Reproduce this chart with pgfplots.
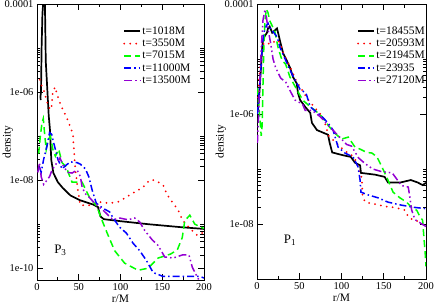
\documentclass[border=0pt]{standalone}
\usepackage{fontspec}
\setmainfont{Liberation Serif}
\usepackage{pgfplots}
\pgfplotsset{compat=1.18}
\definecolor{cviolet}{RGB}{148,0,211}
\definecolor{cgreen}{RGB}{0,255,0}
\definecolor{cblue}{RGB}{0,0,255}
\definecolor{cred}{RGB}{255,0,0}
\pgfplotsset{
  legend image code/.code={\draw[#1] (0bp,0bp) -- (16bp,0bp);},
  myax/.style={
    scale only axis, xmin=0, xmax=200,
    xtick={0,50,100,150,200}, minor xtick={25,75,125,175},
    /pgf/number format/assume math mode=true,
    tick label style={font=\fontsize{10.5}{12}\selectfont},
    xlabel={r/M}, ylabel={density},
    every axis x label/.style={at={(axis description cs:0.5,-0.069)}, anchor=center, font=\fontsize{11.5}{13}\selectfont},
    tick align=inside, major tick length=6bp, minor tick length=3.5bp,
    axis line style={line width=0.9bp},
    every tick/.style={black, line width=0.8bp},
    legend style={draw=none, fill=none, font=\fontsize{11.5}{13}\selectfont,
      row sep=0.8pt, nodes={inner sep=1.2pt}},
    legend cell align=left,
  },
  sblack/.style={black, line width=1.7bp},
  sred/.style={cred, line width=2bp, line cap=round, dash pattern=on 0pt off 6bp},
  sgreen/.style={cgreen, line width=1.5bp, dash pattern=on 7bp off 4bp},
  sblue/.style={cblue, line width=1.5bp, dash pattern=on 7bp off 3bp on 1.5bp off 3bp},
  sviolet/.style={cviolet, line width=1.5bp, dash pattern=on 8bp off 3bp on 1.5bp off 3bp on 1.5bp off 3bp},
}
\begin{document}
\begin{tikzpicture}
\useasboundingbox (-37bp,-25bp) rectangle (399bp,280bp);
% ---------------- left panel ----------------
\begin{axis}[ymode=log, myax, at={(0bp,0bp)}, anchor=south west, width=167bp, height=276bp,
  ymin=5.4e-11, ymax=1e-4,
  ytick={1e-10,1e-8,1e-6,1e-4}, yticklabels={1e-10,1e-08,1e-06,0.0001},
  minor ytick={2e-10,3e-10,4e-10,5e-10,6e-10,7e-10,8e-10,9e-10,1e-9,
               2e-8,3e-8,4e-8,5e-8,6e-8,7e-8,8e-8,9e-8,1e-7,
               2e-6,3e-6,4e-6,5e-6,6e-6,7e-6,8e-6,9e-6,1e-5},
  every axis y label/.style={at={(axis description cs:-0.174,0.5)}, rotate=90, anchor=center, font=\fontsize{11.5}{13}\selectfont},
  legend style={at={(axis description cs:0.497,0.93)}, anchor=north west},
]
\addplot[sblack] coordinates {(4.4,6.6e-7)(4.2,8e-7)(4.8,1e-6)(5.5,1e-5)(6.5,6e-5)(8,1.5e-4)(9.5,1e-4)(10.5,5e-6)(12.4,1.1e-6)(14,3e-7)(15.5,1.4e-7)(16.5,5e-8)(17.2,2.8e-8)(19.6,1.45e-8)(25,9e-9)(31,6.6e-9)(40,4.5e-9)(51.5,3.5e-9)(67,2.8e-9)(73,2.45e-9)(76,1.5e-9)(80,1.3e-9)(100,1.17e-9)(133,1e-9)(174,8.5e-10)(200,7.8e-10)};
\addlegendentry{t=1018M}
\addplot[sred] coordinates {(3.5,1.9e-6)(6,1.3e-6)(9,1e-6)(11,7e-7)(14,4.5e-7)(17,4e-7)(19,1e-6)(21.6,1.3e-6)(24,9e-7)(27,6e-7)(31,4e-7)(36,2.5e-7)(40,1.6e-7)(43,1.1e-7)(44,5.6e-8)(46,1.7e-8)(49,5.9e-9)(52,2.7e-9)(56,2.7e-9)(63,2.7e-9)(75,3.2e-9)(87,3e-9)(97,3.2e-9)(105,3.9e-9)(117,5.4e-9)(127,6.9e-9)(135,1e-8)(141,1e-8)(151,7.8e-9)(156,4.6e-9)(162,3.2e-9)(169,2.1e-9)(174,1.26e-9)(183,8e-10)(192,5.6e-10)(198,6.3e-10)};
\addlegendentry{t=3550M}
\addplot[sgreen] coordinates {(2,4e-8)(4,1e-7)(6,2e-7)(7.5,2.5e-7)(9,1.2e-7)(11,5e-8)(13,8e-8)(16,1e-7)(19,5e-8)(22,3.5e-8)(26,5e-8)(30,2.5e-8)(35,2e-8)(38,1.4e-8)(42,9e-9)(48,9e-9)(54,9e-9)(63,4e-9)(72,2.5e-9)(76,1.5e-9)(84,6.3e-10)(93,2.5e-10)(105,1.3e-10)(121,9e-11)(133,1e-10)(145,1.7e-10)(160,2.1e-10)(168,2.6e-10)(174,5e-10)(177,1.2e-9)(183,1.6e-9)(189,1e-9)(194,9e-10)(200,8e-10)};
\addlegendentry{t=7015M}
\addplot[sblue] coordinates {(3,2e-8)(5,1.5e-8)(8,3e-8)(12,6e-8)(15,1.2e-7)(17.6,1.1e-7)(20,7e-8)(25,3e-8)(30,1.8e-8)(35,2.2e-8)(40,2.6e-8)(48,2.5e-8)(52,2.3e-8)(58,1.8e-8)(62,1.2e-8)(66,6e-9)(71,3e-9)(79,2.3e-9)(87,1.9e-9)(91,1.4e-9)(99,8.5e-10)(107,6.3e-10)(115,3.7e-10)(123,2.5e-10)(131,1.5e-10)(139,8e-11)(151,6.5e-11)(167,6.5e-11)(180,6.5e-11)(195,6.5e-11)(200,6e-11)};
\addlegendentry{t=11000M}
\addplot[sviolet] coordinates {(1,1.5e-8)(3,2.5e-8)(5,1.2e-8)(8,8e-9)(12,1e-8)(15,1.2e-8)(18,1.7e-8)(22,2.2e-8)(27.5,3.2e-8)(32,2e-8)(37,1.5e-8)(42,1.45e-8)(48,1.7e-8)(52,1.2e-8)(54,7e-9)(57.5,5e-9)(63,4e-9)(69,3e-9)(80,2e-9)(91,1.26e-9)(99,1.38e-9)(109,1.26e-9)(117,1.38e-9)(123,1.12e-9)(129,7.2e-10)(138,4.4e-10)(145,3.3e-10)(153,1.8e-10)(163,1.7e-10)(174,2e-10)(182,2e-10)(186,1.05e-10)(192,6.3e-11)(195,5e-11)};
\addlegendentry{t=13500M}
\node[font=\fontsize{13}{15}\selectfont] at (axis cs:28,2.6e-10) {P\textsubscript{3}};
\end{axis}
% ---------------- right panel ----------------
\begin{axis}[ymode=log, myax, at={(220bp,1bp)}, anchor=south west, width=169bp, height=275bp,
  ymin=1e-9, ymax=1e-4,
  ytick={1e-8,1e-6,1e-4}, yticklabels={1e-08,1e-06,0.0001},
  minor ytick={2e-8,3e-8,4e-8,5e-8,6e-8,7e-8,8e-8,9e-8,1e-7,
               2e-6,3e-6,4e-6,5e-6,6e-6,7e-6,8e-6,9e-6,1e-5},
  every axis y label/.style={at={(axis description cs:-0.213,0.5)}, rotate=90, anchor=center, font=\fontsize{11.5}{13}\selectfont},
  legend style={at={(axis description cs:0.574,0.93)}, anchor=north west},
]
\addplot[sblack] coordinates {(0.5,1.2e-6)(1.2,1.2e-6)(2.5,2e-6)(3.5,3.6e-6)(5,8e-6)(6,1.5e-5)(7,2.2e-5)(9,2.6e-5)(11.8,3e-5)(13,3.6e-5)(15,3.9e-5)(18,3e-5)(21,3.3e-5)(23.7,3.6e-5)(25,3e-5)(27,2.2e-5)(31,1.26e-5)(35,9.5e-6)(39,7e-6)(42.6,4.7e-6)(47,3.6e-6)(48.5,2.4e-6)(51,1.8e-6)(57,1.35e-6)(63,1.05e-6)(65,6.9e-7)(71,5.1e-7)(84,4.2e-7)(86,3e-7)(89,2e-7)(101.7,1.78e-7)(111,1.66e-7)(116,1.3e-7)(122,1.17e-7)(123,8.5e-8)(139.6,7.9e-8)(151,7.2e-8)(155,5.7e-8)(170,5.7e-8)(182,6.3e-8)(190,5.7e-8)(196,5.1e-8)(200,5.6e-8)};
\addlegendentry{t=18455M}
\addplot[sred] coordinates {(1,2e-6)(3,5e-6)(5,1.2e-5)(7,1.8e-5)(9.5,2e-5)(13,1.9e-5)(17.7,1.9e-5)(21,2.1e-5)(25,2.2e-5)(28,1.8e-5)(31,1.3e-5)(36,9e-6)(42.6,5.5e-6)(47,3.8e-6)(52,3e-6)(59,1.95e-6)(65,1.5e-6)(71,1.17e-6)(78,8.9e-7)(85,4e-7)(94.6,2.9e-7)(103,2.2e-7)(112,1.78e-7)(118,1.35e-7)(121,9e-8)(124,6.9e-8)(125,3.2e-8)(128,2.5e-8)(139.6,2.3e-8)(151,2.1e-8)(163,2e-8)(175,1.78e-8)(179,1.35e-8)(185,1.17e-8)(193,1.1e-8)(196,1e-8)(200,1e-8)};
\addlegendentry{t=20593M}
\addplot[sgreen] coordinates {(0.5,3e-6)(2,1.5e-6)(3.5,8e-7)(5,4e-7)(6,6e-7)(7,3e-6)(8,1.5e-5)(9.5,5e-5)(11,8e-5)(13,7e-5)(15,5e-5)(18,4e-5)(21,3.2e-5)(25,1.6e-5)(29.6,9.5e-6)(34,8e-6)(39,4.7e-6)(47,2.8e-6)(54,1.8e-6)(63,1.35e-6)(68.6,1.17e-6)(77,8.9e-7)(85,6e-7)(92,4.5e-7)(100,3.5e-7)(108,3.8e-7)(116,2.5e-7)(122,2.3e-7)(130,2e-7)(136,1.95e-7)(142,1.66e-7)(149,1e-7)(155,6.3e-8)(161,3.8e-8)(169,3e-8)(177,2.5e-8)(183,2e-8)(189,1.78e-8)(193,1.35e-8)(196,1.17e-8)(197.5,5.8e-9)(199,3e-9)(200,1.7e-9)};
\addlegendentry{t=21945M}
\addplot[sblue] coordinates {(0.5,1e-6)(2,2e-6)(4,5e-6)(6,1.5e-5)(8,3e-5)(11,4e-5)(13,4.5e-5)(16,3.5e-5)(20,3e-5)(24,2.5e-5)(27,1.65e-5)(31,1.2e-5)(39,6.3e-6)(45,4.2e-6)(51,2.8e-6)(58,2.4e-6)(63,1.35e-6)(70,1.1e-6)(77,8.9e-7)(84,6.9e-7)(90,5.1e-7)(96,2.5e-7)(104,1.95e-7)(113.6,1.66e-7)(119.5,1.1e-7)(122,6.3e-8)(123,3.8e-8)(131,3.4e-8)(143,3e-8)(155,2.5e-8)(171,2.2e-8)(187,2e-8)(200,1.9e-8)};
\addlegendentry{t=23935}
\addplot[sviolet] coordinates {(0.5,3e-7)(2,1e-6)(3,3e-6)(5,1.5e-5)(7,5e-5)(9.5,8e-5)(11,6e-5)(13,3.5e-5)(16,2e-5)(19,1e-5)(22,7e-6)(28,4.5e-6)(34,3.8e-6)(40,2.5e-6)(45,1.8e-6)(54,1.5e-6)(57,1.17e-6)(65,1.17e-6)(75,8.9e-7)(86,5.8e-7)(92,4.7e-7)(100,3.5e-7)(106,2.8e-7)(112,2.6e-7)(120,1.6e-7)(128,1.25e-7)(137,1e-7)(147,9e-8)(160,8.5e-8)(171,5e-8)(179,4.7e-8)(181,3e-8)(183,1.8e-8)(187,1.2e-8)(193,1.05e-8)(200,9e-9)};
\addlegendentry{t=27120M}
\node[font=\fontsize{13}{15}\selectfont] at (axis cs:39,5.1e-9) {P\textsubscript{1}};
\end{axis}
\end{tikzpicture}
\end{document}
